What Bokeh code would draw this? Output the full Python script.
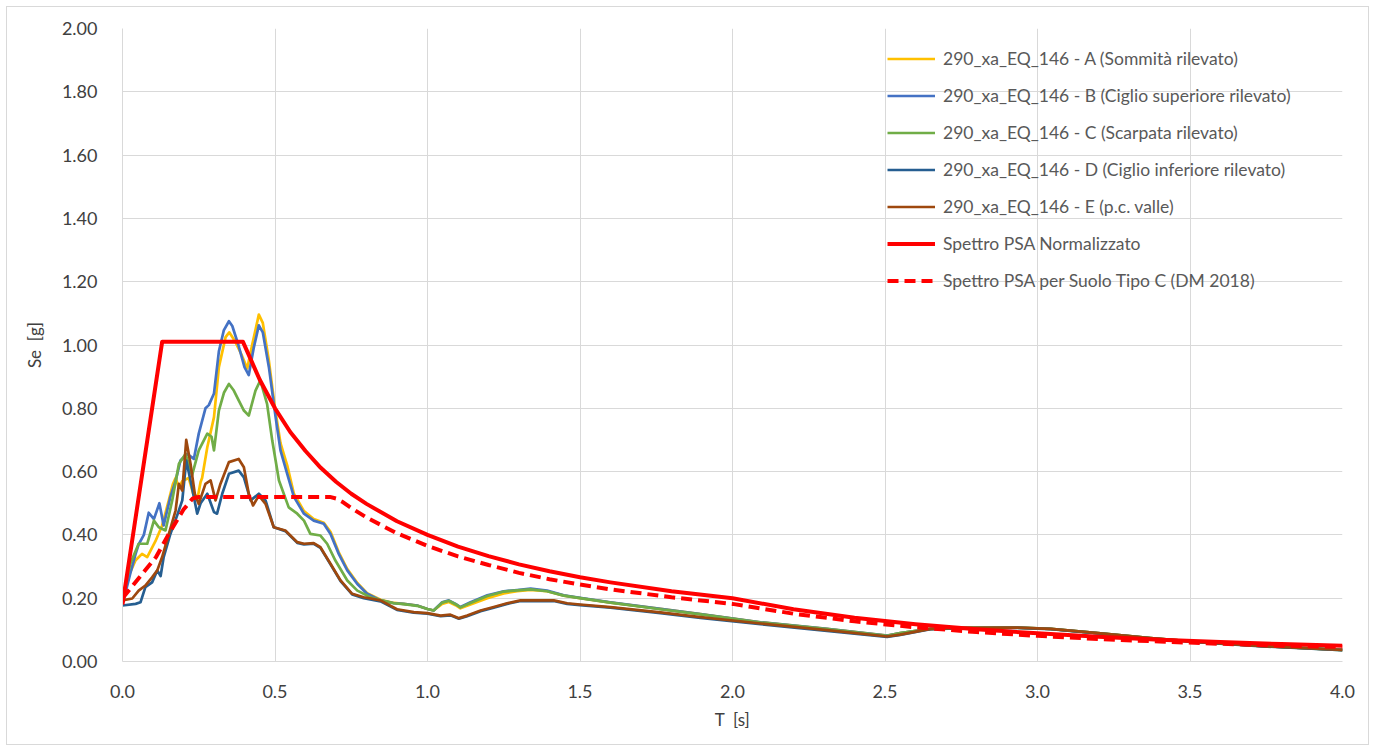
from bokeh.plotting import figure
from bokeh.models import Range1d, Legend, LegendItem, FixedTicker, NumeralTickFormatter
from bokeh.embed import file_html
from bokeh.resources import INLINE

# ---------------- data ----------------
labels = [
    "290_xa_EQ_146 - A (Sommità rilevato)",
    "290_xa_EQ_146 - B (Ciglio superiore rilevato)",
    "290_xa_EQ_146 - C (Scarpata rilevato)",
    "290_xa_EQ_146 - D (Ciglio inferiore rilevato)",
    "290_xa_EQ_146 - E (p.c. valle)",
    "Spettro PSA Normalizzato",
    "Spettro PSA per Suolo Tipo C (DM 2018)",
]

tail_T = [0.846, 0.89, 0.922, 0.966, 1.0, 1.02, 1.048, 1.07, 1.092, 1.108, 1.141, 1.196, 1.25,
          1.294, 1.338, 1.392, 1.447, 1.5, 1.6, 1.764, 1.895, 2.092, 2.31, 2.507, 2.55, 2.649,
          2.769, 2.933, 3.043, 3.207, 3.37, 3.534, 3.753, 4.0]

T_A = [0, 0.02, 0.043, 0.064, 0.081, 0.108, 0.13, 0.141, 0.152, 0.165, 0.174, 0.185, 0.196,
       0.217, 0.232, 0.245, 0.256, 0.261, 0.278, 0.30, 0.316, 0.338, 0.35, 0.37, 0.39, 0.409,
       0.425, 0.447, 0.46, 0.48, 0.50, 0.518, 0.54, 0.562, 0.595, 0.627, 0.66, 0.682, 0.709,
       0.737, 0.77, 0.802] + tail_T
A = [0.20, 0.27, 0.32, 0.34, 0.33, 0.38, 0.43, 0.47, 0.51, 0.56, 0.58, 0.55, 0.57,
     0.58, 0.53, 0.51, 0.567, 0.58, 0.677, 0.772, 0.93, 1.025, 1.04, 1.01, 0.97, 0.926,
     1.00, 1.096, 1.07, 0.95, 0.80, 0.69, 0.62, 0.53, 0.475, 0.45, 0.438, 0.41, 0.345,
     0.292, 0.248, 0.216,
     0.195, 0.185, 0.182, 0.177, 0.166, 0.161, 0.182, 0.188, 0.178, 0.168, 0.18, 0.2, 0.215,
     0.222, 0.226, 0.222, 0.208, 0.2, 0.186, 0.166, 0.15, 0.124, 0.103, 0.082, 0.09, 0.103,
     0.106, 0.107, 0.103, 0.089, 0.074, 0.061, 0.048, 0.037]

T_B = [0, 0.026, 0.043, 0.053, 0.07, 0.086, 0.103, 0.121, 0.135, 0.157, 0.174, 0.19, 0.212,
       0.234, 0.25, 0.272, 0.283, 0.30, 0.316, 0.332, 0.349, 0.36, 0.38, 0.40, 0.414, 0.43,
       0.447, 0.46, 0.48, 0.502, 0.518, 0.54, 0.562, 0.595, 0.627, 0.66, 0.682, 0.709, 0.737,
       0.77, 0.802] + tail_T
B = [0.18, 0.28, 0.34, 0.37, 0.40, 0.47, 0.45, 0.50, 0.43, 0.52, 0.57, 0.635, 0.656,
     0.64, 0.72, 0.80, 0.81, 0.847, 0.98, 1.046, 1.075, 1.06, 1.00, 0.93, 0.905, 0.99,
     1.062, 1.04, 0.93, 0.772, 0.667, 0.593, 0.52, 0.467, 0.445, 0.435, 0.403, 0.34, 0.288,
     0.245, 0.214,
     0.193, 0.184, 0.182, 0.177, 0.166, 0.161, 0.187, 0.193, 0.182, 0.172, 0.187, 0.209, 0.222,
     0.226, 0.23, 0.224, 0.209, 0.201, 0.187, 0.166, 0.15, 0.124, 0.103, 0.082, 0.09, 0.103,
     0.106, 0.107, 0.103, 0.089, 0.074, 0.061, 0.048, 0.037]

T_C = [0, 0.026, 0.053, 0.081, 0.103, 0.119, 0.141, 0.163, 0.185, 0.207, 0.228, 0.25, 0.278,
       0.292, 0.30, 0.316, 0.333, 0.349, 0.365, 0.381, 0.398, 0.414, 0.436, 0.452, 0.474,
       0.491, 0.513, 0.545, 0.573, 0.595, 0.616, 0.649, 0.671, 0.698, 0.737, 0.77, 0.813] + tail_T
C = [0.20, 0.31, 0.372, 0.372, 0.445, 0.424, 0.414, 0.509, 0.625, 0.656, 0.588, 0.667, 0.72,
     0.71, 0.667, 0.793, 0.85, 0.877, 0.856, 0.825, 0.793, 0.777, 0.856, 0.888, 0.814,
     0.698, 0.572, 0.487, 0.467, 0.445, 0.403, 0.398, 0.372, 0.319, 0.256, 0.224, 0.203,
     0.194, 0.184, 0.181, 0.176, 0.166, 0.161, 0.186, 0.192, 0.181, 0.171, 0.185, 0.207, 0.221,
     0.225, 0.228, 0.222, 0.208, 0.2, 0.186, 0.165, 0.149, 0.123, 0.102, 0.081, 0.09, 0.103,
     0.106, 0.107, 0.103, 0.089, 0.074, 0.061, 0.048, 0.036]

lowtail_T = [0.534, 0.573, 0.595, 0.627, 0.649, 0.682, 0.715, 0.753, 0.791, 0.846, 0.90, 0.955,
             1.0, 1.043, 1.075, 1.103, 1.13, 1.174, 1.217, 1.261, 1.305, 1.37, 1.414, 1.458,
             1.5, 1.6, 1.764, 1.895, 2.092, 2.31, 2.507, 2.55, 2.649, 2.769, 2.933, 3.043,
             3.207, 3.37, 3.534, 3.753, 4.0]

T_D = [0, 0.043, 0.059, 0.075, 0.097, 0.114, 0.125, 0.135, 0.157, 0.179, 0.196, 0.209, 0.223,
       0.245, 0.256, 0.278, 0.30, 0.31, 0.327, 0.349, 0.381, 0.398, 0.42, 0.447, 0.469,
       0.496] + lowtail_T
D = [0.177, 0.182, 0.187, 0.235, 0.25, 0.288, 0.27, 0.33, 0.403, 0.461, 0.509, 0.635, 0.572,
     0.467, 0.50, 0.53, 0.472, 0.467, 0.53, 0.593, 0.603, 0.582, 0.509, 0.53, 0.509,
     0.424,
     0.412, 0.375, 0.37, 0.372, 0.359, 0.307, 0.254, 0.212, 0.2, 0.19, 0.163, 0.154,
     0.151, 0.143, 0.146, 0.135, 0.143, 0.159, 0.17, 0.182, 0.191, 0.191, 0.191, 0.182,
     0.178, 0.17, 0.153, 0.138, 0.118, 0.097, 0.078, 0.084, 0.102, 0.105, 0.106, 0.102,
     0.088, 0.073, 0.06, 0.047, 0.036]

T_E = [0, 0.032, 0.053, 0.075, 0.097, 0.114, 0.13, 0.152, 0.174, 0.185, 0.196, 0.209, 0.223,
       0.237, 0.25, 0.272, 0.289, 0.305, 0.321, 0.349, 0.381, 0.398, 0.414, 0.428, 0.447,
       0.469, 0.496] + lowtail_T
E = [0.193, 0.199, 0.224, 0.24, 0.266, 0.288, 0.33, 0.403, 0.477, 0.561, 0.54, 0.70, 0.625,
     0.53, 0.498, 0.561, 0.572, 0.509, 0.561, 0.63, 0.64, 0.614, 0.53, 0.493, 0.524,
     0.498, 0.424,
     0.414, 0.377, 0.372, 0.374, 0.361, 0.309, 0.256, 0.214, 0.203, 0.193, 0.165, 0.156,
     0.153, 0.145, 0.148, 0.137, 0.145, 0.161, 0.172, 0.184, 0.193, 0.193, 0.193, 0.184,
     0.18, 0.172, 0.155, 0.14, 0.12, 0.099, 0.079, 0.085, 0.103, 0.106, 0.107, 0.103,
     0.089, 0.074, 0.061, 0.048, 0.037]

T_norm = [0, 0.13, 0.395, 0.45, 0.50, 0.55, 0.60, 0.65, 0.70, 0.75, 0.80, 0.90, 1.0, 1.1, 1.2,
          1.3, 1.4, 1.5, 1.6, 1.8, 2.0, 2.2, 2.4, 2.6, 2.8, 3.0, 3.2, 3.4, 3.6, 3.8, 4.0]
S_norm = [0.18, 1.01, 1.01, 0.89, 0.80, 0.725, 0.665, 0.612, 0.568, 0.53, 0.498, 0.443, 0.40,
          0.363, 0.333, 0.307, 0.285, 0.266, 0.25, 0.222, 0.20, 0.165, 0.138, 0.118, 0.102,
          0.089, 0.078, 0.069, 0.062, 0.055, 0.05]

T_dm = [0, 0.065, 0.11, 0.15, 0.20, 0.23, 0.25, 0.40, 0.55, 0.68, 0.70, 0.72, 0.75, 0.80, 0.90,
        1.0, 1.1, 1.2, 1.3, 1.4, 1.5, 1.6, 1.8, 2.0, 2.2, 2.4, 2.6, 2.8, 3.0, 3.2, 3.4, 3.6,
        3.8, 4.0]
S_dm = [0.20, 0.277, 0.33, 0.40, 0.48, 0.515, 0.52, 0.52, 0.52, 0.52, 0.515, 0.505, 0.485,
        0.455, 0.405, 0.365, 0.332, 0.305, 0.28, 0.26, 0.243, 0.228, 0.203, 0.182, 0.151,
        0.127, 0.108, 0.093, 0.081, 0.071, 0.063, 0.056, 0.05, 0.046]

x_ticks = [0.0, 0.5, 1.0, 1.5, 2.0, 2.5, 3.0, 3.5, 4.0]
y_ticks = [0.0, 0.2, 0.4, 0.6, 0.8, 1.0, 1.2, 1.4, 1.6, 1.8, 2.0]

colors = ["#FFC000", "#4472C4", "#70AD47", "#255E91", "#9E480E", "#FF0000", "#FF0000"]

# ---------------- figure ----------------
FONT = "Lato"
p = figure(frame_width=1220, frame_height=633, output_backend="svg", toolbar_location=None,
           x_range=Range1d(0, 4), y_range=Range1d(0, 2),
           min_border_left=115, min_border_right=26, min_border_top=21, min_border_bottom=83,
           margin=(6, 6, 6, 6))
p.outline_line_color = None
p.background_fill_color = "white"
p.border_fill_color = "white"
p.styles = {"border": "1px solid #D9D9D9"}

for ax in (p.xaxis[0], p.yaxis[0]):
    ax.major_tick_line_color = None
    ax.minor_tick_line_color = None
    ax.axis_line_color = "#D9D9D9"
    ax.major_label_text_font = FONT
    ax.major_label_text_font_size = "18px"
    ax.major_label_text_color = "#404040"
    ax.axis_label_text_font = FONT
    ax.axis_label_text_font_size = "17px"
    ax.axis_label_text_font_style = "normal"
    ax.axis_label_text_color = "#404040"

p.xaxis.ticker = FixedTicker(ticks=x_ticks)
p.yaxis.ticker = FixedTicker(ticks=y_ticks)
p.xaxis.formatter = NumeralTickFormatter(format="0.0")
p.yaxis.formatter = NumeralTickFormatter(format="0.00")
p.xaxis.axis_label = "T \u00a0[s]"
p.yaxis.axis_label = "Se \u00a0[g]"
p.xaxis.major_label_standoff = 17
p.yaxis.major_label_standoff = 19
p.xaxis.axis_label_standoff = 8
p.yaxis.axis_label_standoff = 14
p.xgrid.ticker = FixedTicker(ticks=x_ticks)
p.ygrid.ticker = FixedTicker(ticks=y_ticks)
for g in (p.xgrid[0], p.ygrid[0]):
    g.grid_line_color = "#D9D9D9"
    g.grid_line_width = 1

series = [(T_A, A), (T_B, B), (T_C, C), (T_D, D), (T_E, E)]
renderers = []
for (tx, vy), c in zip(series, colors[:5]):
    r = p.line(tx, vy, line_color=c, line_width=2.7, line_join="round")
    renderers.append(r)
r6 = p.line(T_norm, S_norm, line_color=colors[5], line_width=4, line_join="round")
r7 = p.line(T_dm, S_dm, line_color=colors[6], line_width=4, line_dash="11 6")
renderers += [r6, r7]

legend = Legend(items=[LegendItem(label=l, renderers=[r]) for l, r in zip(labels, renderers)],
                location=(755, 360))
legend.background_fill_alpha = 0
legend.border_line_alpha = 0
legend.label_text_font = FONT
legend.label_text_font_size = "17.5px"
legend.label_text_color = "#595959"
legend.glyph_width = 48
legend.glyph_height = 21
legend.label_height = 21
legend.label_standoff = 8
legend.spacing = 16
legend.padding = 10
legend.margin = 0
p.add_layout(legend)

open("out.html", "w").write(file_html(p, INLINE))
